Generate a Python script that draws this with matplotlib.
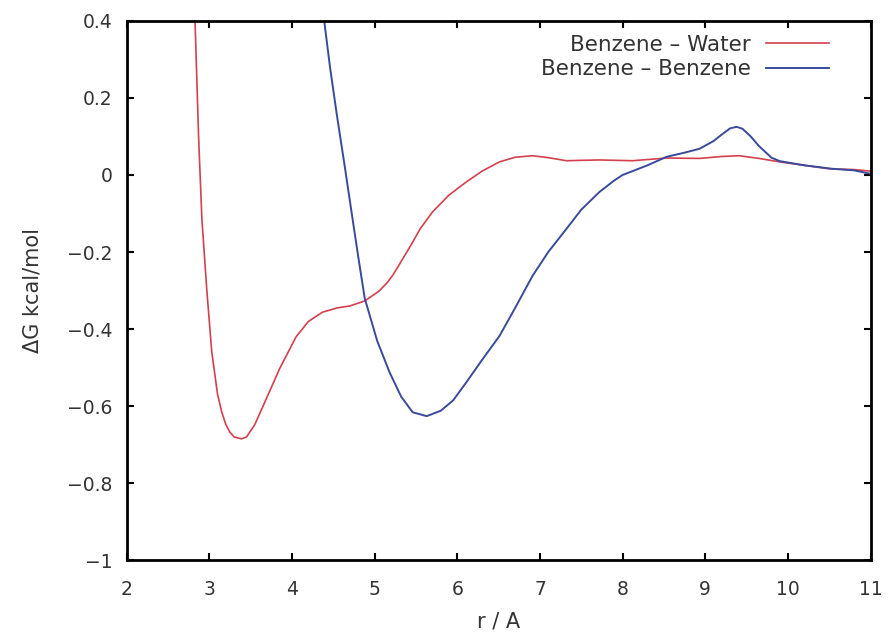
import numpy as np
import matplotlib
matplotlib.use("Agg")
import matplotlib.pyplot as plt

plt.rcParams['font.family'] = ['DejaVu Sans']

# benzene - water free energy profile
r_bw = [2.82, 2.87, 2.91, 2.97, 3.03, 3.10, 3.15, 3.20, 3.25, 3.30, 3.39, 3.45,
        3.55, 3.65, 3.85, 4.05, 4.20, 4.37, 4.55, 4.70, 4.88, 5.05, 5.15, 5.22,
        5.30, 5.45, 5.55, 5.70, 5.90, 6.11, 6.30, 6.51, 6.70, 6.91, 7.10, 7.32,
        7.50, 7.72, 8.12, 8.53, 8.93, 9.20, 9.41, 9.65, 9.90, 10.20, 10.50,
        10.80, 11.00]
dg_bw = [0.45, 0.10, -0.114, -0.30, -0.46, -0.57, -0.615, -0.648, -0.668,
         -0.680, -0.685, -0.680, -0.648, -0.60, -0.503, -0.42, -0.38, -0.356,
         -0.345, -0.340, -0.327, -0.302, -0.280, -0.260, -0.232, -0.178, -0.140,
         -0.096, -0.052, -0.018, 0.010, 0.034, 0.046, 0.050, 0.045, 0.037,
         0.038, 0.039, 0.037, 0.044, 0.043, 0.048, 0.050, 0.043, 0.034, 0.025,
         0.016, 0.014, 0.010]

# benzene - benzene free energy profile
r_bb = [4.37, 4.39, 4.46, 4.54, 4.64, 4.73, 4.80, 4.88, 5.03, 5.18, 5.32, 5.46,
        5.63, 5.80, 5.95, 6.11, 6.30, 6.51, 6.70, 6.91, 7.10, 7.32, 7.50, 7.72,
        7.90, 8.00, 8.12, 8.30, 8.53, 8.75, 8.93, 9.10, 9.20, 9.30, 9.38, 9.45,
        9.55, 9.65, 9.80, 9.90, 10.20, 10.54, 10.80, 11.00]
dg_bb = [0.45, 0.40, 0.28, 0.16, 0.02, -0.11, -0.21, -0.32, -0.43, -0.512,
         -0.575, -0.616, -0.626, -0.612, -0.585, -0.538, -0.48, -0.418, -0.345,
         -0.262, -0.20, -0.140, -0.09, -0.044, -0.014, 0.0, 0.010, 0.025, 0.047,
         0.058, 0.068, 0.088, 0.105, 0.121, 0.125, 0.120, 0.100, 0.075, 0.045,
         0.036, 0.025, 0.016, 0.012, 0.003]

xticks = [2, 3, 4, 5, 6, 7, 8, 9, 10, 11]
yticks = [-1, -0.8, -0.6, -0.4, -0.2, 0, 0.2, 0.4]
ylabels = ["\u22121", "\u22120.8", "\u22120.6", "\u22120.4", "\u22120.2", "0", "0.2", "0.4"]

txt = "#333333"

fig = plt.figure(figsize=(8.92, 6.33), dpi=100)
ax = fig.add_axes([0.142, 0.115, 0.834, 0.852])

ax.plot(r_bw, dg_bw, color="#d4404c", lw=1.2, label="Benzene \u2013 Water")
ax.plot(r_bb, dg_bb, color="#3a4a9a", lw=1.4, label="Benzene \u2013 Benzene")

ax.set_xlim(2, 11)
ax.set_ylim(-1, 0.4)
ax.set_xticks(xticks)
ax.set_yticks(yticks)
ax.set_yticklabels(ylabels)
ax.tick_params(direction="in", top=True, right=True, length=5, width=1.5,
               labelsize=13.5, labelcolor=txt)
ax.tick_params(axis="x", pad=14)
ax.tick_params(axis="y", pad=10)
for s in ax.spines.values():
    s.set_linewidth(2)

ax.set_xlabel("r / A", fontsize=15, color=txt, labelpad=9)
ax.set_ylabel("\u0394G kcal/mol", fontsize=15, color=txt, labelpad=18)

leg = ax.legend(loc="upper right", bbox_to_anchor=(0.955, 0.99), frameon=False,
                markerfirst=False, fontsize=15.5, handlelength=2.9,
                borderaxespad=0.0, labelspacing=0.2, handletextpad=0.7)
for t in leg.get_texts():
    t.set_color(txt)

fig.savefig("out.png", dpi=100)
